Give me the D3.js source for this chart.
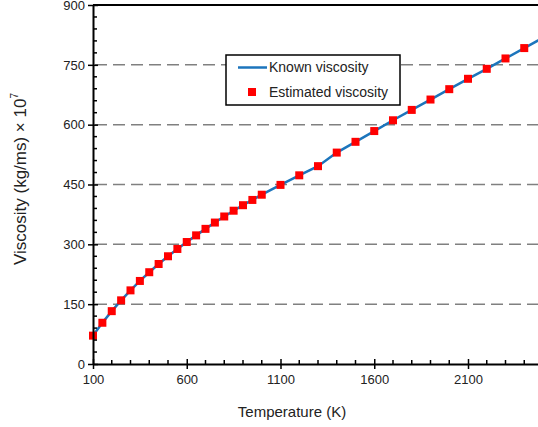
<!DOCTYPE html>
<html>
<head>
<meta charset="utf-8">
<script src="https://cdn.jsdelivr.net/npm/d3@7"></script>
<style>
  html, body { margin: 0; padding: 0; background: #fff; }
  svg { display: block; font-family: "Liberation Sans", Arial, sans-serif; }
</style>
</head>
<body>
<svg id="chart" width="538" height="427"></svg>
<script>
// Temperature (K) and dynamic viscosity of air (kg/ms × 10^7)
const temperatures = [100, 150, 200, 250, 300, 350, 400, 450, 500, 550, 600, 650, 700, 750, 800, 850, 900, 950,
  1000, 1100, 1200, 1300, 1400, 1500, 1600, 1700, 1800, 1900, 2000, 2100, 2200, 2300, 2400, 2500];
const knownViscosity = [71.1, 103.4, 132.5, 159.6, 184.6, 208.2, 230.1, 250.7, 270.1, 288.4, 305.8, 322.5, 338.8, 354.6, 369.8, 384.3, 398.1, 411.3,
  424.4, 449, 473, 496, 530, 557, 584, 611, 637, 663, 689, 715, 740, 766, 792, 818];
const estimatedViscosity = [71.1, 103.4, 132.5, 159.6, 184.6, 208.2, 230.1, 250.7, 270.1, 288.4, 305.8, 322.5, 338.8, 354.6, 369.8, 384.3, 398.1, 411.3,
  424.4, 449, 473, 496, 530, 557, 584, 611, 637, 663, 689, 715, 740, 766, 792, 818];
const xTicks = [100, 600, 1100, 1600, 2100];
const yTicks = [0, 150, 300, 450, 600, 750, 900];
const gridValues = [150, 300, 450, 600, 750];
const seriesNames = ["Known viscosity", "Estimated viscosity"];

const svg = d3.select("#chart");
const plotLeft = 93, plotBottom = 364, plotTop = 5;
const pxPerK = 0.1875;

const x = d3.scaleLinear().domain([100, 2600]).range([plotLeft, plotLeft + 2500 * pxPerK]);
const y = d3.scaleLinear().domain([0, 900]).range([plotBottom, plotTop]);

const plotRight = x(2600);
const textColor = "#222";
const font = "Liberation Sans, Arial, sans-serif";

// clip for data marks
svg.append("defs").append("clipPath").attr("id", "plotClip")
  .append("rect").attr("x", plotLeft).attr("y", plotTop).attr("width", plotRight - plotLeft).attr("height", plotBottom - plotTop);

// dashed horizontal gridlines
svg.append("g").selectAll("line").data(gridValues).join("line")
  .attr("x1", plotLeft + 2).attr("x2", plotRight)
  .attr("y1", d => y(d)).attr("y2", d => y(d))
  .attr("stroke", "#808080").attr("stroke-width", 1.5)
  .attr("stroke-dasharray", "12,6");

// data
const data = temperatures.map((t, i) => ({ t, k: knownViscosity[i], e: estimatedViscosity[i] }));
const plot = svg.append("g").attr("clip-path", "url(#plotClip)");
plot.append("path").datum(data)
  .attr("fill", "none").attr("stroke", "#1c75bc").attr("stroke-width", 2.5)
  .attr("d", d3.line().x(d => x(d.t)).y(d => y(d.k)));

const ms = 8;
svg.append("g").selectAll("rect").data(data.filter(d => x(d.t) < 538)).join("rect")
  .attr("x", d => x(d.t) - ms / 2).attr("y", d => y(d.e) - ms / 2)
  .attr("width", ms).attr("height", ms).attr("fill", "#ff0000");

// frame: top border
svg.append("line").attr("x1", plotLeft).attr("x2", plotRight).attr("y1", plotTop).attr("y2", plotTop)
  .attr("stroke", "#000").attr("stroke-width", 2);

// y axis
const yAxis = d3.axisLeft(y).tickValues(yTicks).tickFormat(d3.format("d"))
  .tickSizeInner(5).tickSizeOuter(0).tickPadding(4);
const gy = svg.append("g").attr("transform", `translate(${plotLeft},0)`).call(yAxis)
  .attr("font-family", font).attr("font-size", 13);
gy.select(".domain").attr("stroke", "#000").attr("stroke-width", 2);
gy.selectAll(".tick line").attr("stroke", "#000").attr("stroke-width", 1.5).attr("x1", 5).attr("x2", -5);
gy.selectAll(".tick text").attr("fill", textColor).attr("x", -8);
// minor y ticks (inside)
svg.append("g").selectAll("line").data(d3.range(0, 901, 30).filter(v => v % 150 !== 0)).join("line")
  .attr("x1", plotLeft).attr("x2", plotLeft + 4).attr("y1", d => y(d)).attr("y2", d => y(d))
  .attr("stroke", "#000").attr("stroke-width", 1.5);

// x axis
const xAxis = d3.axisBottom(x).tickValues(xTicks).tickFormat(d3.format("d"))
  .tickSizeInner(5).tickSizeOuter(0).tickPadding(5);
const gx = svg.append("g").attr("transform", `translate(0,${plotBottom})`).call(xAxis)
  .attr("font-family", font).attr("font-size", 13);
gx.select(".domain").attr("stroke", "#000").attr("stroke-width", 2);
gx.selectAll(".tick line").attr("stroke", "#000").attr("stroke-width", 1.5).attr("y1", -5).attr("y2", 5);
gx.selectAll(".tick text").attr("fill", textColor).attr("y", 11);
// minor x ticks (inside)
svg.append("g").selectAll("line").data(d3.range(100, 2601, 100).filter(v => (v - 100) % 500 !== 0)).join("line")
  .attr("x1", d => x(d)).attr("x2", d => x(d)).attr("y1", plotBottom).attr("y2", plotBottom - 4)
  .attr("stroke", "#000").attr("stroke-width", 1.5);

// axis titles
svg.append("text").attr("x", 292).attr("y", 417).attr("text-anchor", "middle")
  .attr("font-size", 15).attr("fill", textColor).text("Temperature (K)");

const yt = svg.append("text").attr("transform", "translate(26,179) rotate(-90)")
  .attr("text-anchor", "middle").attr("font-size", 17).attr("fill", textColor);
yt.append("tspan").text("Viscosity (kg/ms) × 10");
yt.append("tspan").attr("font-size", 10).attr("dy", -8).text("7");

// legend
const lg = svg.append("g");
lg.append("rect").attr("x", 226).attr("y", 55).attr("width", 174).attr("height", 50)
  .attr("fill", "#fff").attr("stroke", "#000").attr("stroke-width", 1.5);
lg.append("line").attr("x1", 238).attr("x2", 267).attr("y1", 67.5).attr("y2", 67.5)
  .attr("stroke", "#1c75bc").attr("stroke-width", 2.5);
lg.append("rect").attr("x", 252 - ms / 2).attr("y", 92 - ms / 2).attr("width", ms).attr("height", ms).attr("fill", "#ff0000");
lg.selectAll("text").data(seriesNames).join("text")
  .attr("x", 269).attr("y", (d, i) => 72 + i * 25)
  .attr("font-size", 14).attr("fill", textColor).text(d => d);
</script>
</body>
</html>
